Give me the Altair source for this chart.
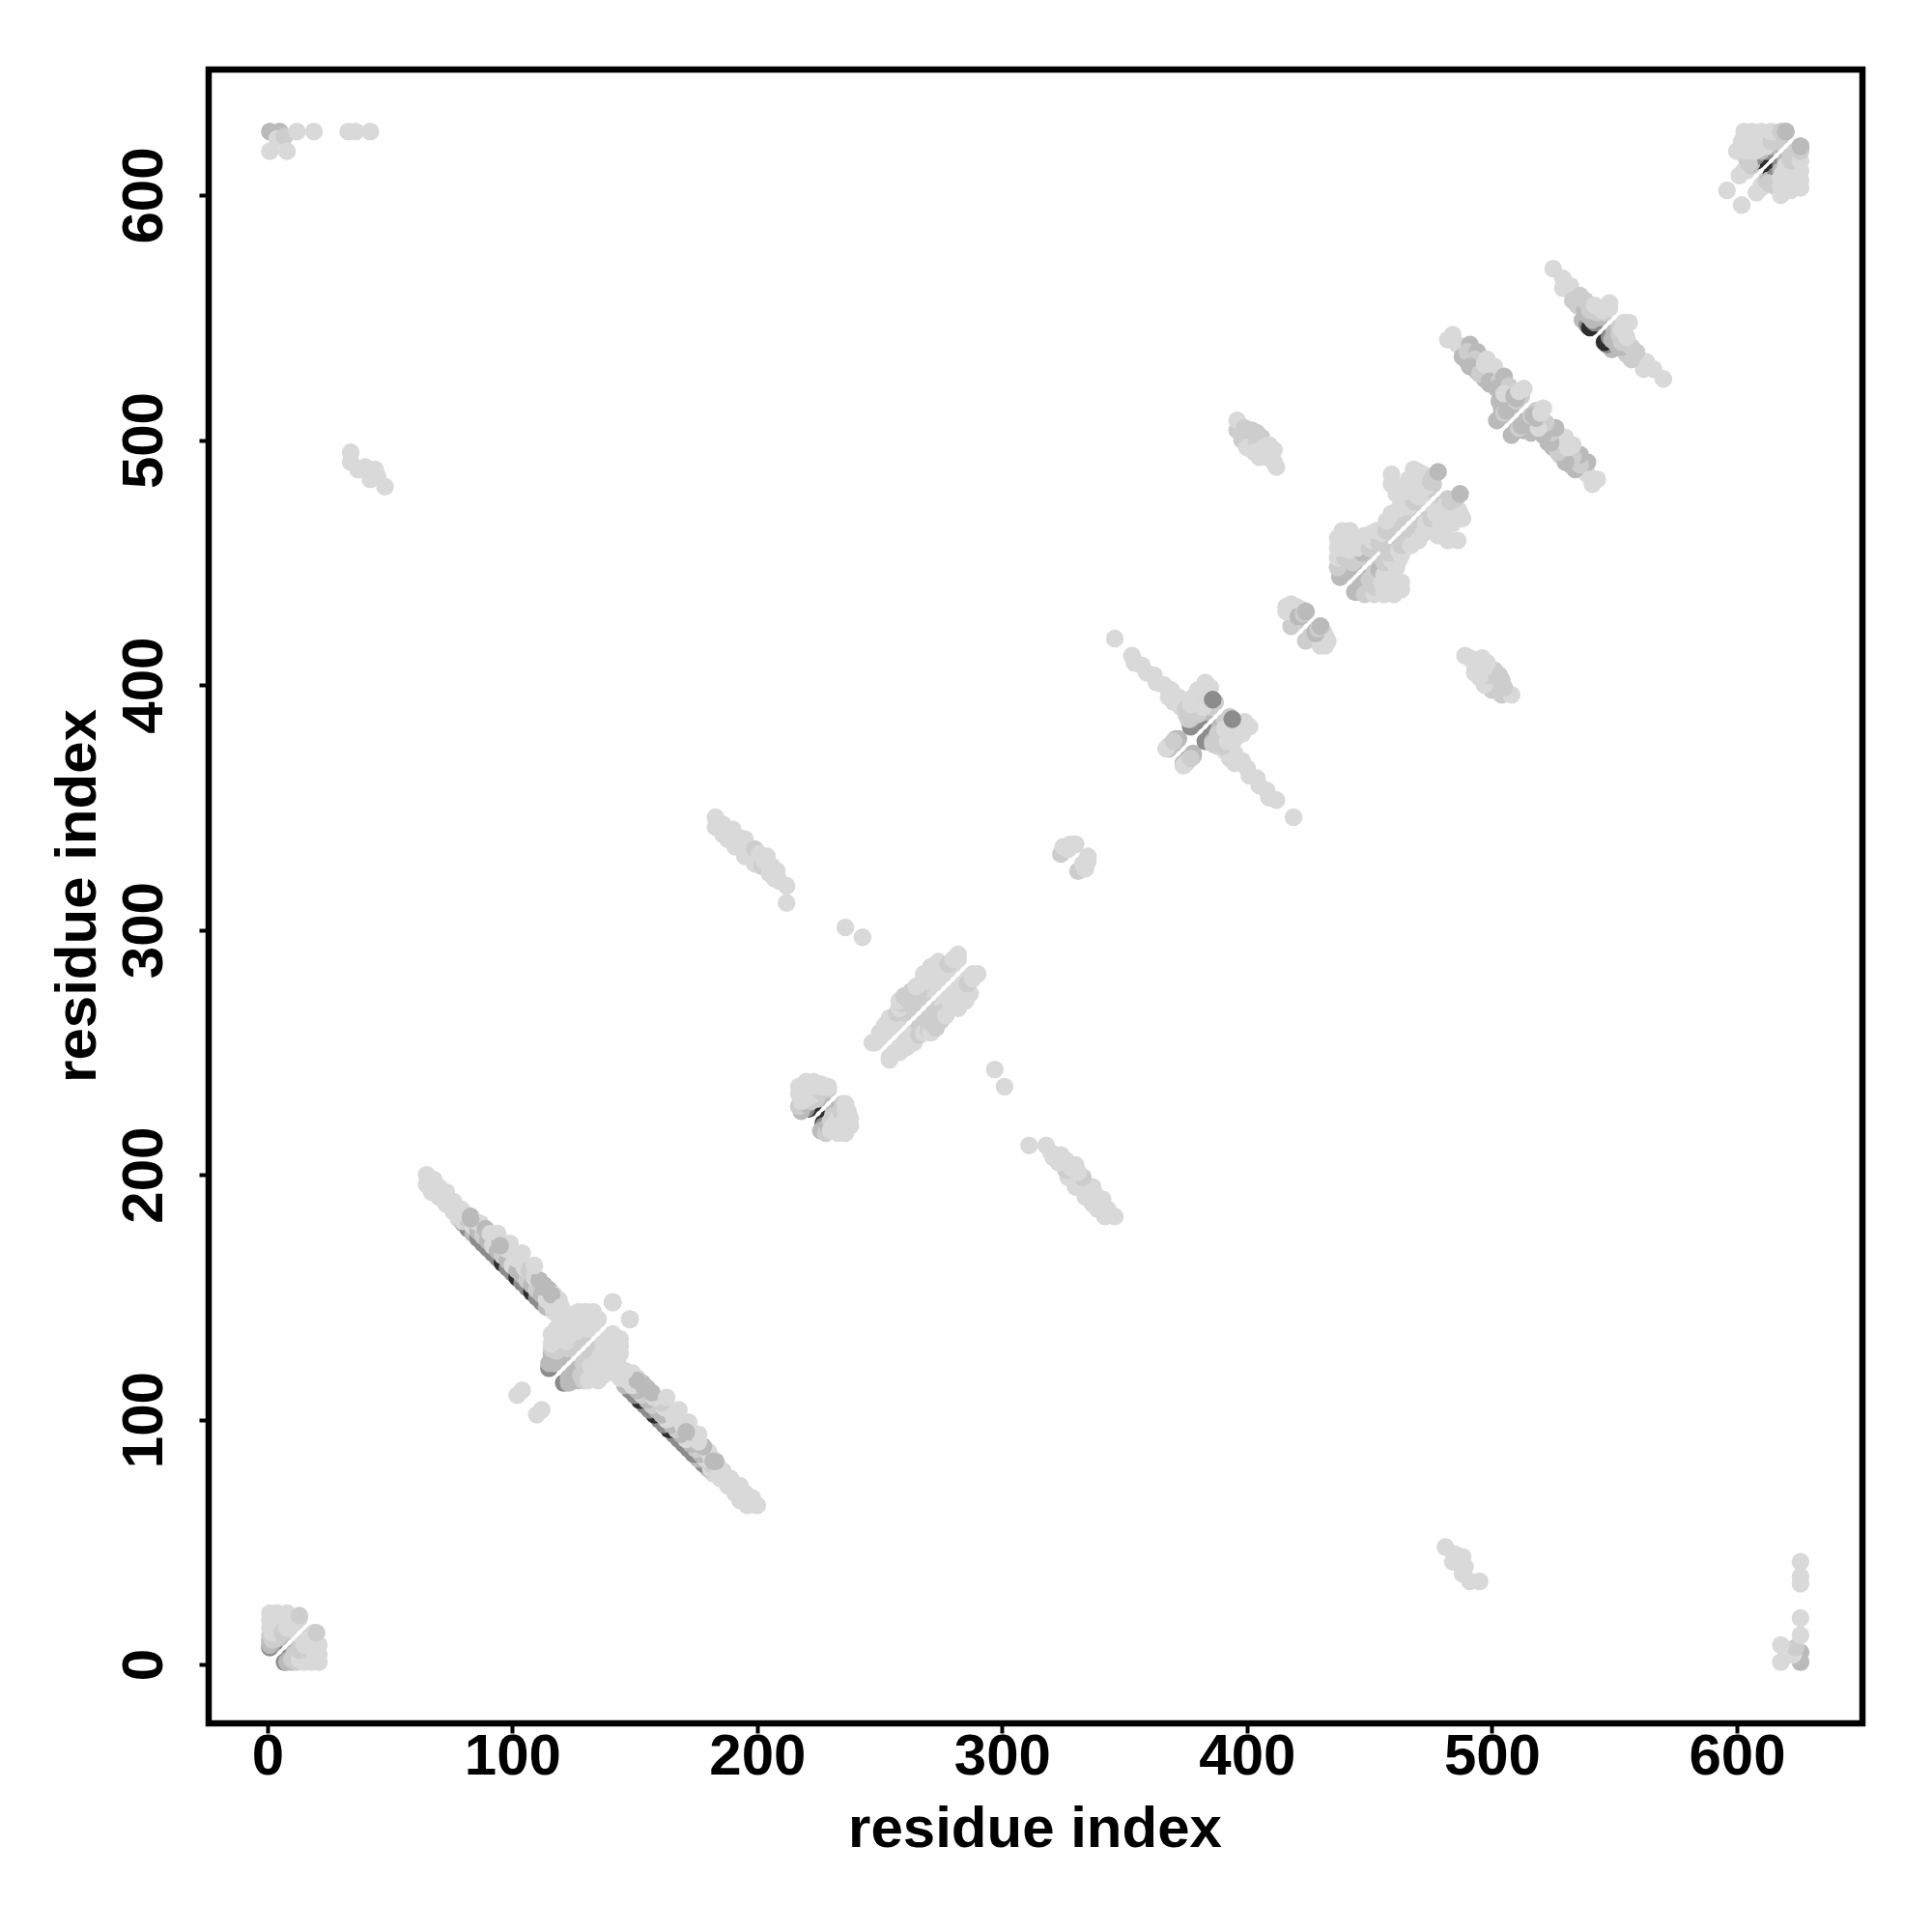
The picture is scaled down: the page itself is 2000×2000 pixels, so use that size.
import altair as alt
import pandas as pd

# contacts above the diagonal: (residue i, residue j, score level); the map is symmetric
block_n_term = [(1,7,4),(3,9,4),(5,11,3),(7,13,3),(1,8,3),(2,9,3),(1,10,3),(3,11,3),(2,10,2),(4,11,2),(1,12,2),(5,12,2),(2,13,1),(8,14,1),(9,15,1),(11,17,1),(12,18,1),(1,15,1),(3,15,1),(1,18,1),(4,18,1),(1,21,1),(4,21,1),(8,21,1),(6,13,2),(8,15,1),(10,17,1),(8,18,1),(12,19,1),(13,19,1),(13,20,2)]
corner_ends = [(1,626,3),(5,626,3),(4,623,1),(7,624,2),(12,626,1),(19,626,1),(33,626,1),(36,626,1),(42,626,1),(1,618,1),(8,618,1)]
patch_a = [(34,495,1),(34,491,1),(37,488,1),(40,489,1),(44,488,1),(42,484,1),(45,485,1),(48,481,1)]
strand_b = [
    (65,196,1),(65,200,1),(67,193,1),(68,198,1),(70,191,1),(70,195,1),(73,188,1),(73,193,1),(76,185,1),(76,189,1),
    (78,182,1),(79,186,1),(80,180,3),(82,178,4),(84,176,3),(86,174,4),(88,172,4),(90,170,4),(92,168,4),(94,166,4),
    (96,164,5),(98,162,4),(100,160,4),(102,158,5),(104,156,4),(106,154,4),(108,152,5),(110,150,4),(112,148,4),(114,146,3),
    (80,181,1),(82,181,2),(84,179,1),(86,177,3),(88,175,2),(90,173,3),(92,171,1),(94,169,3),(96,167,2),(98,165,3),
    (100,163,1),(102,161,3),(104,159,3),(106,157,2),(108,155,3),(110,153,2),(112,151,3),(114,149,1),(116,147,1),
    (81,184,1),(83,183,3),(85,181,1),(87,180,1),(89,178,3),(91,176,1),(93,174,1),(95,173,3),(97,170,1),(99,169,1),
    (101,166,1),(103,165,1),(105,162,1),(107,161,2),(109,158,1),(111,157,3),(113,155,3),(115,153,3),(117,151,1),(119,149,1),
    (94,176,1),(99,172,1),(104,168,1),(109,163,1),(83,182,3),(95,171,3),(113,154,3),(116,151,3),
]
block_b = [
    (115,121,4),(117,123,3),(119,125,3),(121,127,3),(123,129,2),(125,131,2),(127,133,2),(129,135,2),(131,137,1),(133,139,1),(135,141,1),
    (115,123,3),(116,125,3),(116,127,3),(118,128,2),(116,129,2),(120,130,2),(122,132,1),(124,134,2),(126,136,1),(128,138,1),(130,140,1),(132,141,1),
    (116,131,1),(117,132,1),(120,134,1),(123,134,1),(116,135,1),(118,137,1),(122,138,1),(126,139,1),(129,141,1),
    (119,142,1),(123,143,1),(127,144,1),(130,144,1),(133,144,1),(120,146,1),(117,144,1),
    (141,148,3),(141,148,2),(102,110,1),(104,112,1),(148,141,1),
]
strand_c = [
    (183,346,1),(183,342,1),(186,343,1),(186,339,1),(188,337,1),(190,341,1),(190,336,1),(191,334,1),(192,338,1),(194,333,1),(195,337,1),(195,330,1),
    (196,334,1),(198,329,1),(199,333,2),(199,327,1),(201,331,1),(202,326,2),(203,328,1),(205,323,1),(204,330,1),(206,326,1),(207,321,1),(208,324,1),
    (209,320,1),(212,318,1),(212,311,1),
]
pair_d = [(236,301,1),(243,297,1)]
block_e = [
    (221,227,5),(223,229,5),(225,231,3),(227,233,3),(229,235,2),(220,227,4),(218,226,3),(217,228,2),(220,229,3),(222,230,2),(224,231,2),(220,231,1),
    (218,230,1),(217,233,1),(217,236,1),(220,234,1),(223,233,1),(226,234,2),(220,238,1),(223,238,1),(226,237,1),(223,236,1),(227,236,1),(229,236,1),
]
strand_f = [
    (248,254,1),(250,256,1),(252,258,1),(254,260,1),(256,262,1),(258,264,1),(260,266,2),(262,268,2),(264,270,2),(266,272,2),(268,274,2),(270,276,1),(272,278,1),(274,280,1),(276,282,1),(278,284,1),(280,286,1),
    (247,254,1),(250,258,1),(252,261,1),(255,261,1),(256,264,1),(254,264,1),(257,266,2),(258,268,1),(259,270,2),(261,270,2),(258,271,1),(260,273,2),(262,271,2),(264,273,2),(263,275,2),(266,275,2),(268,278,2),(265,277,1),(268,280,1),(270,279,1),
    (272,281,1),(271,285,1),(268,282,1),(274,287,1),(275,283,1),(276,285,1),(278,286,2),(280,288,1),(282,288,1),(282,290,1),
]
block_g = [(324,331,2),(326,333,2),(325,334,1),(328,335,1),(330,335,1),(327,333,1),(329,335,1)]
strand_h = [
    (346,419,1),(353,412,1),(354,409,1),(357,408,1),(359,405,1),(362,404,1),(363,401,1),(366,400,1),(369,398,1),(368,395,1),(372,395,1),
    (370,393,1),(373,391,1),(375,388,1),(368,374,3),(370,376,3),(368,375,2),(367,374,1),(372,378,3),(371,378,3),(370,377,2),
    (377,383,4),(379,385,4),(381,387,4),(383,389,3),(385,391,2),(387,393,2),(377,386,3),(378,389,2),(375,390,2),(380,388,2),(378,395,1),(381,394,2),(383,401,1),(380,398,1),(385,399,1),
    (376,386,2),(377,392,1),(384,392,2),(382,391,1),(384,396,1),(386,394,4),
]
patch_i = [(396,504,2),(396,508,1),(399,505,2),(402,504,2),(398,500,2),(404,503,2),(401,500,2),(400,497,1),(404,499,2),(403,495,1),(406,501,2),(407,497,1),(405,493,1),(409,498,1),(408,493,1),(411,491,1),(412,489,1),(411,496,1)]
block_j = [(418,424,2),(420,426,2),(422,428,3),(424,430,3),(416,432,1),(418,433,1),(420,432,1),(416,430,1),(419,430,1),(422,431,1),(421,428,3),(423,429,2),(424,430,3)]
block_k = [
    (438,444,3),(440,446,3),(442,448,3),(444,450,3),(446,452,2),(448,454,2),(450,456,2),(452,458,2),(454,460,2),(456,462,2),(458,464,2),(460,466,2),(462,468,2),(464,470,2),(466,472,2),(468,474,2),(470,476,1),(472,478,1),(474,480,2),(476,482,2),
    (438,445,3),(439,447,3),(441,447,3),(437,448,2),(443,450,2),(437,452,1),(440,452,2),(445,452,2),(442,455,1),(447,454,3),
    (437,456,1),(440,456,1),(437,460,1),(439,463,1),(442,463,1),(445,460,1),(445,456,1),(448,458,1),(450,456,2),(451,459,1),(441,460,1),(448,461,1),(451,462,1),
    (454,458,2),(455,462,1),(453,463,1),(457,463,2),(458,465,2),(460,467,2),(462,469,2),(459,470,1),(464,471,2),(463,475,1),(462,472,1),(457,467,1),
    (466,473,1),(461,478,1),(459,482,1),(459,486,1),(468,475,2),(465,479,1),(470,477,1),(468,482,1),(471,479,1),(473,481,1),(466,484,1),(464,481,1),
    (470,487,1),(468,488,1),(472,486,1),(475,483,2),(476,485,2),(478,487,3),
]
strand_l = [
    (484,543,1),(482,541,1),(486,539,1),(488,534,3),(490,532,3),(492,530,3),(491,539,3),(490,536,2),(494,528,3),(494,536,3),(493,533,2),(491,530,3),(496,529,3),
    (497,525,3),(495,527,2),(499,523,3),(498,533,1),(497,531,1),(501,530,1),(500,527,1),(499,524,3),(503,524,2),(502,521,3),(505,526,3),(507,522,2),
    (502,508,3),(504,510,3),(503,516,3),(504,513,3),(505,511,2),(506,512,3),(508,514,3),(506,517,3),(505,519,1),(510,516,2),(512,518,2),(510,517,3),(509,518,3),(511,520,1),(513,521,1),
]
strand_m = [
    (525,570,1),(529,566,1),(529,562,1),(532,563,1),(533,557,2),(535,555,2),(536,559,2),(538,553,3),(537,549,3),(539,547,4),(540,546,5),(542,548,4),(538,557,2),(539,551,3),(541,549,3),
    (544,550,3),(546,552,2),(548,554,1),(540,553,2),(543,552,2),(545,553,1),(546,554,1),(542,555,1),(548,556,1),
]
block_n = [
    (596,602,1),(601,608,1),(603,610,1),(604,610,1),(606,612,2),(608,614,5),(609,615,5),(610,616,5),(612,618,4),(614,620,3),(616,622,2),(618,624,2),(620,626,2),
    (606,613,3),(607,616,3),(608,616,4),(610,618,3),(605,613,2),(604,615,2),(607,618,1),(604,618,1),(609,619,1),(612,620,1),
    (600,618,1),(602,622,1),(603,626,1),(606,626,1),(605,622,1),(608,624,1),(610,622,1),(610,626,1),(614,622,2),(616,624,2),
    (614,626,1),(618,626,2),(620,626,3),
]

clusters = [block_n_term, corner_ends, patch_a, strand_b, block_b, strand_c, pair_d, block_e, strand_f,
            block_g, strand_h, patch_i, block_j, block_k, strand_l, strand_m, block_n]

score_levels = [1, 2, 3, 4, 5]
score_greys = ["#d9d9d9", "#cdcdcd", "#bababa", "#8c8c8c", "#2e2e2e"]
tick_values = [0, 100, 200, 300, 400, 500, 600]
axis_title = "residue index"

rows = []
for cluster in clusters:
    for i, j, s in cluster:
        rows.append({"x": i, "y": j, "score": s})
        rows.append({"x": j, "y": i, "score": s})
df = pd.DataFrame(rows)

font = "Liberation Sans"
common = dict(values=tick_values, grid=False, domain=False, tickColor="black", tickSize=10, tickWidth=4,
              labelFont=font, labelFontWeight="bold", labelFontSize=60, labelColor="black",
              titleFont=font, titleFontWeight="bold", titleFontSize=60, titleColor="black",
              title=axis_title, format="d")

chart = alt.Chart(df).mark_point(filled=True, opacity=1, strokeWidth=0).encode(
    x=alt.X("x:Q", scale=alt.Scale(domain=[-24, 651.3], nice=False, zero=False),
            axis=alt.Axis(labelPadding=-5, labelBaseline="top", titleX=855, titleY=127,
                          titleBaseline="alphabetic", labelFlush=False, **common)),
    y=alt.Y("y:Q", scale=alt.Scale(domain=[-24, 651.3], nice=False, zero=False),
            axis=alt.Axis(labelAngle=-90, labelAlign="center", labelBaseline="bottom", labelPadding=26,
                          titleX=-118, titleY=855, titleAngle=-90, titleBaseline="alphabetic",
                          labelFlush=False, **common)),
    color=alt.Color("score:O", scale=alt.Scale(domain=score_levels, range=score_greys), legend=None),
    size=alt.value(340),
).properties(
    width=1712, height=1712,
    autosize=alt.AutoSizeParams(type="none"),
    padding={"left": 208, "top": 64, "right": 40, "bottom": 190},
).configure_view(stroke="black", strokeWidth=6.5)

chart.save("out.html", embed_options={"renderer": "svg", "actions": False})
